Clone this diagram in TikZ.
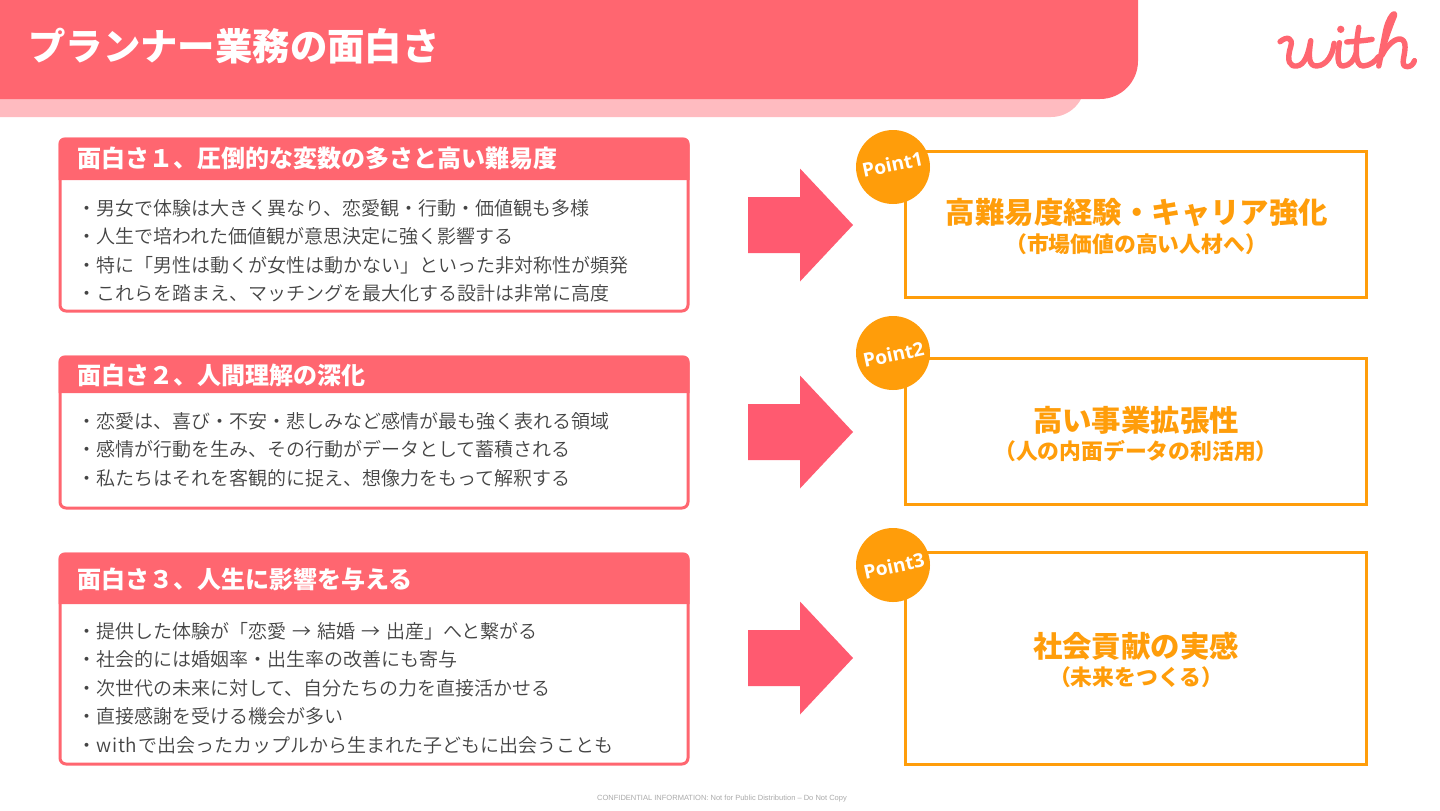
\documentclass[tikz,border=0pt]{standalone}
\usepackage{fontspec}
\setmainfont{Noto Sans CJK JP}
\newfontfamily\lightcjk{Noto Sans CJK JP DemiLight}
\newfontfamily\latinbold{Open Sans}
\newfontfamily\footfont{Liberation Sans}
\definecolor{coral}{HTML}{FF6670}
\definecolor{lightcoral}{HTML}{FFBBC0}
\definecolor{arrowpink}{HTML}{FF5A70}
\definecolor{amber}{HTML}{FF9D0A}
\definecolor{bodygrey}{HTML}{444444}
\definecolor{footgrey}{HTML}{AAAAAA}
\tikzset{
  x=0.5pt,y=-0.5pt,
  outerbox/.style={draw=coral,line width=1.5pt,fill=white,rounded corners=3pt},
  headfill/.style={fill=coral},
  headtext/.style={anchor=west,text=white,inner sep=0pt,font=\fontsize{12}{14}\selectfont\bfseries},
  bodytext/.style={anchor=west,align=left,text=bodygrey,inner sep=0pt,font=\lightcjk\fontsize{9.5}{14.25}\selectfont},
  pointbox/.style={draw=amber,line width=1.5pt,fill=white},
  pointdot/.style={circle,fill=amber,minimum size=37pt,inner sep=0pt},
  pointtext/.style={text=white,rotate=12,inner sep=0pt,font=\latinbold\fontsize{9.6}{12}\selectfont\bfseries},
  maintext/.style={text=amber,inner sep=0pt,font=\fontsize{14.7}{17}\selectfont\bfseries},
  subtext/.style={text=amber,inner sep=0pt,font=\fontsize{10.9}{13}\selectfont\bfseries},
  bigarrow/.style={fill=arrowpink},
  logo/.style={draw=coral,line width=2.7pt,line cap=round,line join=round},
}
\newcommand{\arrowat}[1]{\fill[bigarrow] (748,#1-28) -- (800,#1-28) -- (800,#1-56.5) -- (853,#1) -- (800,#1+56.5) -- (800,#1+28) -- (748,#1+28) -- cycle;}
\newcommand{\spacedarrow}{\hspace{.85pt} → \hspace{.85pt}}
\begin{document}
\begin{tikzpicture}
\useasboundingbox (0,0) rectangle (1440,810);
% banner
\fill[lightcoral] (0,0) -- (1085,0) -- (1085,60) [rounded corners=17pt] -- (1085,117) [sharp corners] -- (0,117) -- cycle;
\fill[coral] (0,0) -- (1138,0) [rounded corners=19pt] -- (1138,99) [sharp corners] -- (0,99) -- cycle;
\node[anchor=west,text=white,inner sep=0pt,font=\fontsize{18.7}{22}\selectfont\bfseries] (title) at (28,46) {プランナー業務の面白さ};
% logo
\begin{scope}[shift={(1000,0)},x=0.1667pt,y=-0.1667pt]
\draw[logo] (840,125) .. controls (860,108) and (880,112) .. (872,140) .. controls (858,185) and (870,200) .. (890,198) .. controls (915,195) and (925,160) .. (932,122) .. controls (925,170) and (925,198) .. (950,198) .. controls (980,196) and (998,165) .. (1002,130);
\draw[logo] (1018,128) .. controls (1012,165) and (1010,200) .. (1030,198) .. controls (1050,196) and (1062,180) .. (1068,160);
\draw[logo] (1076,82) .. controls (1068,130) and (1060,200) .. (1090,198) .. controls (1110,196) and (1125,185) .. (1135,170);
\draw[logo] (1040,126) .. controls (1065,124) and (1095,122) .. (1116,118);
\draw[logo] (1136,198) .. controls (1145,150) and (1165,90) .. (1182,50) .. controls (1190,30) and (1165,45) .. (1155,100) .. controls (1145,150) and (1140,180) .. (1136,198);
\draw[logo] (1146,165) .. controls (1165,125) and (1205,100) .. (1214,130) .. controls (1220,160) and (1195,200) .. (1222,200) .. controls (1232,200) and (1240,192) .. (1243,182);
\fill[coral] (1022,88) circle (11);
\end{scope}
% left boxes
\draw[outerbox] (60,139) rectangle (688,311);
\fill[headfill] (58.5,180) [rounded corners=3pt] -- (58.5,137.5) -- (689.5,137.5) [sharp corners] -- (689.5,180) -- cycle;
\node[headtext] (h1) at (77,158.5) {面白さ１、圧倒的な変数の多さと高い難易度};
\node[bodytext] (b1) at (77,250.8) {・男女で体験は大きく異なり、恋愛観・行動・価値観も多様\\・人生で培われた価値観が意思決定に強く影響する\\・特に「男性は動くが女性は動かない」といった非対称性が頻発\\・これらを踏まえ、マッチングを最大化する設計は非常に高度};
\draw[outerbox] (60,357) rectangle (688,508);
\fill[headfill] (58.5,393) [rounded corners=3pt] -- (58.5,355.5) -- (689.5,355.5) [sharp corners] -- (689.5,393) -- cycle;
\node[headtext] (h2) at (77,375) {面白さ２、人間理解の深化};
\node[bodytext] (b2) at (77,449.3) {・恋愛は、喜び・不安・悲しみなど感情が最も強く表れる領域\\・感情が行動を生み、その行動がデータとして蓄積される\\・私たちはそれを客観的に捉え、想像力をもって解釈する};
\draw[outerbox] (60,554) rectangle (688,764);
\fill[headfill] (58.5,604) [rounded corners=3pt] -- (58.5,552.5) -- (689.5,552.5) [sharp corners] -- (689.5,604) -- cycle;
\node[headtext] (h3) at (77,579) {面白さ３、人生に影響を与える};
\node[bodytext] (b3) at (77,687.8) {・提供した体験が「恋愛\spacedarrow 結婚\spacedarrow 出産」へと繋がる\\・社会的には婚姻率・出生率の改善にも寄与\\・次世代の未来に対して、自分たちの力を直接活かせる\\・直接感謝を受ける機会が多い\\・w\kern.4pt i\kern.4pt t\kern.4pt h\kern.4pt で出会ったカップルから生まれた子どもに出会うことも};
% arrows
\arrowat{225}
\arrowat{432}
\arrowat{658}
% right boxes
\draw[pointbox] (905.5,151.5) rectangle (1366.5,297.5);
\node[pointdot] (d1) at (893,167) {};
\node[pointtext] (p1) at (892.5,164.5) {Point1};
\node[maintext] (m1) at (1137,213) {高難易度経験・キャリア強化};
\node[subtext] (s1) at (1136,244) {（市場価値の高い人材へ）};
\draw[pointbox] (905.5,358.5) rectangle (1366.5,504.5);
\node[pointdot] (d2) at (893,353) {};
\node[pointtext] (p2) at (893.5,354.5) {Point2};
\node[maintext] (m2) at (1136,420) {高い事業拡張性};
\node[subtext] (s2) at (1136,451) {（人の内面データの利活用）};
\draw[pointbox] (905.5,552.5) rectangle (1366.5,764.5);
\node[pointdot] (d3) at (893,565) {};
\node[pointtext] (p3) at (894,566) {Point3};
\node[maintext] (m3) at (1136,646) {社会貢献の実感};
\node[subtext] (s3) at (1136,677) {（未来をつくる）};
% footer
\node[text=footgrey,inner sep=0pt,font=\footfont\fontsize{3.76}{5}\selectfont] (foot) at (722,798.5) {CONFIDENTIAL INFORMATION: Not for Public Distribution – Do Not Copy};
\end{tikzpicture}
\end{document}
